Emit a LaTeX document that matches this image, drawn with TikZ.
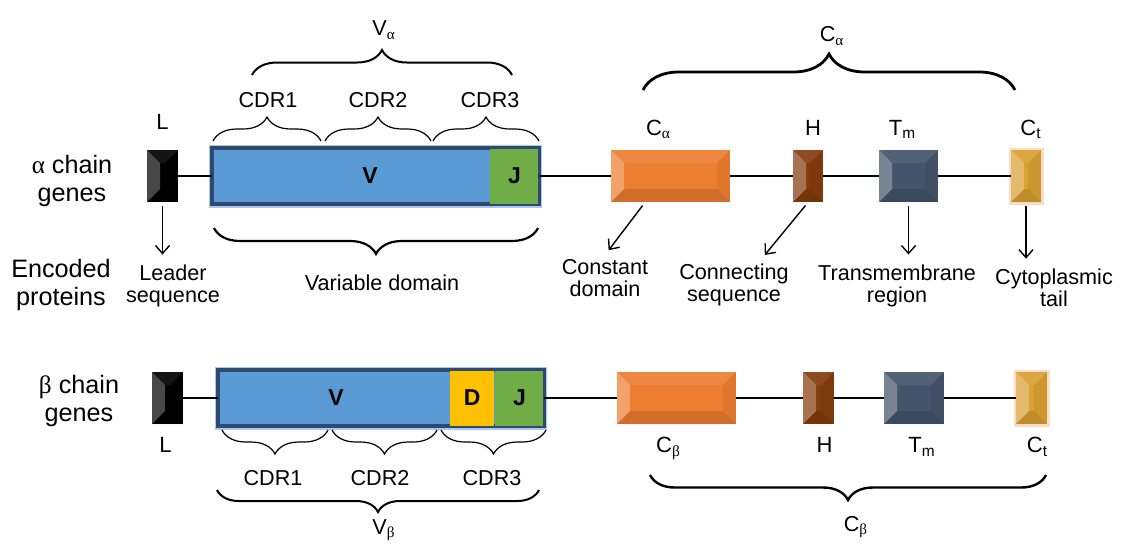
\documentclass[tikz,border=0pt]{standalone}
\usepackage{fontspec}
\setmainfont{Liberation Sans}
\newfontfamily\grk{Liberation Serif}
\usepackage{xcolor}
\usepackage{tikz}
\usetikzlibrary{arrows.meta, positioning, decorations.pathreplacing}

\definecolor{vblue}{HTML}{5B9BD5}
\definecolor{vedge}{HTML}{2E4A70}
\definecolor{vglow}{HTML}{A9C8EC}
\definecolor{jgreen}{HTML}{70AD47}
\definecolor{dyellow}{HTML}{FFC000}
\definecolor{corange}{HTML}{ED7D31}
\definecolor{hbrown}{HTML}{843C0C}
\definecolor{tmslate}{HTML}{44546A}
\definecolor{ctgold}{HTML}{D9A032}
\definecolor{ctglow}{HTML}{FBDCC4}

\begin{document}
\begin{tikzpicture}[x=0.5pt, y=-0.5pt]
\tikzstyle{bevel} = [path picture={
    \path (path picture bounding box.south west) coordinate (bsw)
          (path picture bounding box.north west) coordinate (bnw)
          (path picture bounding box.north east) coordinate (bne)
          (path picture bounding box.south east) coordinate (bse);
    \fill[white, opacity=.28] (bsw) -- (bnw) -- ([shift={(6.5pt,-6.5pt)}]bnw) -- ([shift={(6.5pt,6.5pt)}]bsw) -- cycle;
    \fill[white, opacity=.08] (bnw) -- (bne) -- ([shift={(-6.5pt,-6.5pt)}]bne) -- ([shift={(6.5pt,-6.5pt)}]bnw) -- cycle;
    \fill[black, opacity=.05] (bne) -- (bse) -- ([shift={(-6.5pt,6.5pt)}]bse) -- ([shift={(-6.5pt,-6.5pt)}]bne) -- cycle;
    \fill[black, opacity=.12] (bsw) -- (bse) -- ([shift={(-6.5pt,6.5pt)}]bse) -- ([shift={(6.5pt,6.5pt)}]bsw) -- cycle;}]
\tikzstyle{gene} = [rectangle, inner sep=0pt, minimum height=26pt, bevel]
\tikzstyle{vbox} = [rectangle, inner sep=0pt, minimum height=27.5pt, fill=vblue,
    draw=vedge, line width=1.4pt, preaction={draw=vglow, line width=4pt}]
\tikzstyle{seg} = [rectangle, inner sep=0pt, minimum height=27.5pt,
    font=\fontsize{11.5}{12}\selectfont\bfseries]
\tikzstyle{tag} = [inner sep=0pt, text height=8pt, text depth=3pt,
    font=\fontsize{11}{12}\selectfont]
\tikzstyle{desc} = [align=center, inner sep=2pt, font=\fontsize{10.8}{11}\selectfont]
\tikzstyle{side} = [align=center, font=\fontsize{12.6}{14}\selectfont]
\tikzstyle{cdr} = [font=\fontsize{10.8}{12}\selectfont]
\tikzstyle{link} = [line width=0.9pt]
\tikzstyle{arrow} = [line width=0.7pt, -{Straight Barb[length=4pt, width=7pt]},
    shorten <=2pt, shorten >=3pt]
\tikzstyle{brace} = [decorate, decoration={brace, amplitude=12pt}, line width=0.6pt]
\tikzstyle{bigbrace} = [decorate, decoration={brace, amplitude=13pt}, line width=1.1pt]

\useasboundingbox (0,0) rectangle (1122,543);

% Alpha chain
\node[gene, fill=black, minimum width=15.5pt] (la) at (162.5,176) {};
\node[vbox, minimum width=162.5pt] (va) at (375.5,176) {};
\node[seg, fill=jgreen, minimum width=24.5pt, anchor=east] (ja) at (va.east) {J};
\draw[vedge, line width=1.4pt] (va.south west) rectangle (va.north east);
\node[seg] (vatxt) at (370,176) {V};
\node[gene, fill=corange, minimum width=59.5pt] (ca) at (670.5,176) {};
\node[gene, fill=hbrown, minimum width=15pt] (ha) at (808,176) {};
\node[gene, fill=tmslate, minimum width=29.5pt] (tma) at (908.5,176) {};
\node[gene, fill=ctgold, minimum width=15pt, preaction={draw=ctglow, line width=2.5pt}] (cta) at (1026,176) {};

\foreach \a/\b in {la/va, va/ca, ca/ha, ha/tma, tma/cta}
    \draw[link] (\a) -- (\b);

\node[tag, above=7pt of la] (lalab) {L};
\node[tag, above=4pt of ca, xshift=-6pt] (calab) {C\textsubscript{\grk α}};
\node[tag, above=4pt of ha, xshift=2.5pt] (halab) {H};
\node[tag, above=4pt of tma, xshift=-3pt] (tmalab) {T\textsubscript{m}};
\node[tag, above=4pt of cta, xshift=2.5pt] (ctalab) {C\textsubscript{t}};

% Beta chain
\node[gene, fill=black, minimum width=15.5pt] (lb) at (167.5,398) {};
\node[vbox, minimum width=162pt] (vb) at (381,398) {};
\node[seg, fill=jgreen, minimum width=24.5pt, anchor=east] (jb) at (vb.east) {J};
\node[seg, fill=dyellow, minimum width=22pt, anchor=east] (db) at (jb.west) {D};
\draw[vedge, line width=1.4pt] (vb.south west) rectangle (vb.north east);
\node[seg] (vbtxt) at (336,398) {V};
\node[gene, fill=corange, minimum width=59.5pt] (cb) at (676.5,398) {};
\node[gene, fill=hbrown, minimum width=15.5pt] (hb) at (818.5,398) {};
\node[gene, fill=tmslate, minimum width=30pt] (tmb) at (914,398) {};
\node[gene, fill=ctgold, minimum width=15.5pt, preaction={draw=ctglow, line width=2.5pt}] (ctb) at (1031.5,398) {};

\foreach \a/\b in {lb/vb, vb/cb, cb/hb, hb/tmb, tmb/ctb}
    \draw[link] (\a) -- (\b);

\node[tag, below=6pt of lb, xshift=-1pt] (lblab) {L};
\node[tag, below=6pt of cb, xshift=-4pt] (cblab) {C\textsubscript{\grk β}};
\node[tag, below=6pt of hb, xshift=3pt] (hblab) {H};
\node[tag, below=6pt of tmb, xshift=4pt] (tmblab) {T\textsubscript{m}};
\node[tag, below=6pt of ctb, xshift=3pt] (ctblab) {C\textsubscript{t}};

% Side labels
\node[side] (agenes) at (72,181) {{\grk α} chain\\genes};
\node[side] (encoded) at (61,285) {Encoded\\proteins};
\node[side] (bgenes) at (79,401) {{\grk β} chain\\genes};

% Encoded proteins
\node[desc] (lead) at (173,286) {Leader\\sequence};
\node[desc] (vdom) at (382,283) {Variable domain};
\node[desc] (const) at (605,278) {Constant\\domain};
\node[desc] (conn) at (734,285) {Connecting\\sequence};
\node[desc] (trans) at (897,286) {Transmembrane\\region};
\node[desc] (cyto) at (1054,288) {Cytoplasmic\\tail};

\draw[arrow] (la.south) -- (la.south |- lead.north);
\draw[arrow] ([xshift=-12.75pt]ca.south) -- (const.north);
\draw[arrow] (ha.south) -- ([xshift=13.5pt]conn.north);
\draw[arrow] (tma.south) -- (tma.south |- trans.north);
\draw[arrow] (cta.south) -- (cta.south |- cyto.north);

% Braces, alpha
\draw[brace] (213,141) -- (321,141);
\draw[brace] (325,141) -- (431,141);
\draw[brace] (433,141) -- (539,141);
\node[cdr] (cdr1a) at (268,100) {CDR1};
\node[cdr] (cdr2a) at (378,100) {CDR2};
\node[cdr] (cdr3a) at (490,100) {CDR3};
\draw[bigbrace, decoration={amplitude=12.5pt}, line width=1pt] (252,75) -- (512,75);
\node[cdr] (valab) at (384,30) {V\textsubscript{\grk α}};
\draw[bigbrace] (538,228) -- (214,228);
\draw[bigbrace, decoration={amplitude=18pt}, line width=1.4pt] (643,90) -- (1015,90);
\node[cdr] (calabtop) at (832,36) {C\textsubscript{\grk α}};

% Braces, beta
\draw[brace] (328,430) -- (222,430);
\draw[brace] (437,430) -- (332,430);
\draw[brace] (546,430) -- (441,430);
\node[cdr] (cdr1b) at (273,478) {CDR1};
\node[cdr] (cdr2b) at (380,478) {CDR2};
\node[cdr] (cdr3b) at (492,478) {CDR3};
\draw[bigbrace, decoration={amplitude=11pt}, line width=1pt] (539,490) -- (217,490);
\node[cdr] (vblab) at (384,530) {V\textsubscript{\grk β}};
\draw[bigbrace, decoration={amplitude=12.5pt}, line width=1.2pt] (1046,475) -- (650,475);
\node[cdr] (cblabbot) at (856,527) {C\textsubscript{\grk β}};
\end{tikzpicture}
\end{document}
